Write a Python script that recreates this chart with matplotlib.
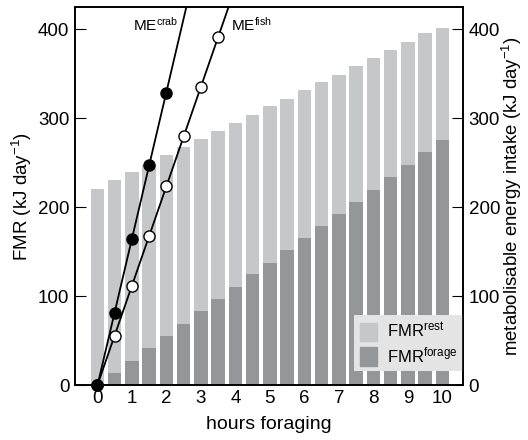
import numpy as np
import matplotlib
matplotlib.use('Agg')
import matplotlib.pyplot as plt
from matplotlib.patches import Patch

plt.rcParams['font.family'] = ['Liberation Sans', 'DejaVu Sans']
plt.rcParams['mathtext.fontset'] = 'custom'
plt.rcParams['mathtext.rm'] = 'Liberation Sans'
plt.rcParams['mathtext.default'] = 'regular'

hours = [0, 0.5, 1, 1.5, 2, 2.5, 3, 3.5, 4, 4.5, 5, 5.5, 6, 6.5, 7, 7.5, 8, 8.5, 9, 9.5, 10]
fmr_total = [221, 231, 240, 248, 259, 268, 277, 286, 295, 304, 314, 322, 332, 341, 349, 359, 368, 377, 386, 396, 402]
fmr_forage = [0, 14, 28, 42, 56, 69, 84, 97, 111, 125, 138, 152, 166, 179, 193, 206, 220, 234, 248, 262, 276]

crab_h = [0, 0.5, 1, 1.5, 2]
crab_me = [0, 81, 165, 248, 329]
fish_h = [0, 0.5, 1, 1.5, 2, 2.5, 3, 3.5]
fish_me = [0, 56, 112, 168, 224, 280, 335, 391]

light = '#c6c7c8'
dark = '#959697'

fig = plt.figure(figsize=(5.28, 4.4), dpi=100)
ax = fig.add_axes([0.142, 0.124, 0.735, 0.86])

ax.bar(hours, fmr_total, width=0.39, color=light, zorder=1)
ax.bar(hours, fmr_forage, width=0.39, color=dark, zorder=2)

# extend fitted lines past the top edge, as in the original
for h, me in [(crab_h, crab_me), (fish_h, fish_me)]:
    k, b = np.polyfit(h, me, 1)
    xx = np.array([0, 5])
    ax.plot(xx, k * xx + b, color='black', lw=1.3, zorder=3)

ax.plot(fish_h, fish_me, 'o', color='black', mfc='white', ms=8, mew=1.0, zorder=4, clip_on=False)
ax.plot(crab_h, crab_me, 'o', color='black', mfc='black', ms=8, zorder=5, clip_on=False)

ax.text(1.02, 405, 'ME$^{crab}$', fontsize=11, va='center', ha='left')
ax.text(3.87, 405, 'ME$^{fish}$', fontsize=11, va='center', ha='left')

ax.set_xlim(-0.65, 10.6)
ax.set_ylim(0, 425)
ax.set_xticks(range(11))
ax.set_yticks([0, 100, 200, 300, 400])
ax.tick_params(axis='x', length=0, labelsize=13.5, pad=3)
ax.tick_params(axis='y', direction='in', length=8, labelsize=13.5, pad=4)
ax.set_xlabel('hours foraging', fontsize=14, labelpad=7)
ax.set_ylabel('FMR (kJ day$^{-1}$)', fontsize=13.5, labelpad=3)

ax2 = ax.twinx()
ax2.set_ylim(0, 425)
ax2.set_yticks([0, 100, 200, 300, 400])
ax2.tick_params(axis='y', direction='in', length=8, labelsize=13.5, pad=4)
ax2.set_ylabel('metabolisable energy intake (kJ day$^{-1}$)', fontsize=13.4, labelpad=0)

handles = [Patch(color=light), Patch(color=dark)]
leg = ax.legend(handles, ['FMR$^{rest}$', 'FMR$^{forage}$'],
                loc='lower right', bbox_to_anchor=(1.0, 0.037), borderaxespad=0,
                fontsize=12, frameon=True, fancybox=False, handlelength=1.0,
                handleheight=1.3, handletextpad=0.6, borderpad=0.35, labelspacing=0.25)
leg.get_frame().set_facecolor('#e4e4e4')
leg.get_frame().set_edgecolor('none')
leg.get_frame().set_alpha(1)
leg.set_zorder(6)

for a in (ax, ax2):
    for s in a.spines.values():
        s.set_linewidth(1.2)

fig.savefig('out.png', dpi=100)
